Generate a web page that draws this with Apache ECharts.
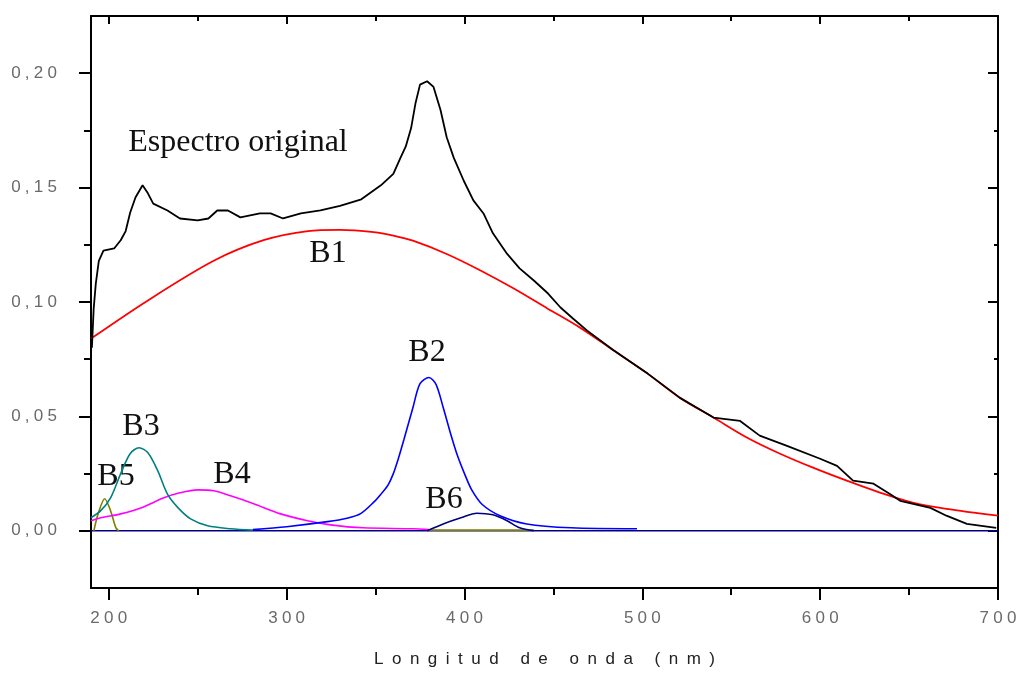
<!DOCTYPE html>
<html>
<head>
<meta charset="utf-8">
<script src="https://cdn.jsdelivr.net/npm/echarts@6/dist/echarts.min.js"></script>
<style>
  html, body { margin: 0; padding: 0; background: #fff; }
  #chart { width: 1021px; height: 674px; }
</style>
</head>
<body>
<div id="chart"></div>
<script>
// espectro original (nm, absorbancia)
var spectrumNm = [190.5, 191.5, 192.7, 194.4, 197, 203, 206.7, 209.5, 212, 215, 219, 222, 225, 233, 240, 250, 256, 261, 267, 274, 285, 291, 298, 308, 319, 330, 342, 353, 360, 364, 367, 370, 372.5, 375, 379, 382.6, 386.5, 390, 394, 399.6, 405, 410.7, 416, 424, 431, 439, 447, 454, 461, 469, 484, 503, 521, 540, 555, 566, 581, 600, 609.5, 618.5, 630, 639, 645, 662, 671, 682.5, 699];
var spectrumAbs = [0.080, 0.097, 0.108, 0.118, 0.1225, 0.1234, 0.127, 0.131, 0.139, 0.1457, 0.151, 0.1475, 0.143, 0.140, 0.1365, 0.1357, 0.1365, 0.140, 0.140, 0.137, 0.1387, 0.1387, 0.1365, 0.1387, 0.140, 0.142, 0.1449, 0.151, 0.156, 0.163, 0.168, 0.176, 0.187, 0.195, 0.1965, 0.194, 0.184, 0.172, 0.163, 0.153, 0.1444, 0.1387, 0.130, 0.121, 0.1147, 0.1094, 0.1037, 0.0976, 0.0928, 0.0875, 0.0788, 0.0687, 0.0582, 0.0495, 0.048, 0.0416, 0.0372, 0.0315, 0.0284, 0.0219, 0.0206, 0.0162, 0.0131, 0.010, 0.0066, 0.003, 0.0013];

// bandas
var b1Nm = [190, 222, 259, 287, 312, 330, 349, 360, 371, 390, 409, 427.5, 446.6, 465, 484, 503, 521, 540, 559, 577.5, 596, 615, 634, 652, 671, 700];
var b1Abs = [0.084, 0.1007, 0.118, 0.127, 0.131, 0.1315, 0.1305, 0.129, 0.1268, 0.121, 0.1138, 0.106, 0.0972, 0.0888, 0.0788, 0.0687, 0.0582, 0.0495, 0.0407, 0.0337, 0.0276, 0.0219, 0.0166, 0.0123, 0.0096, 0.0066];

var b2Nm = [281, 300, 323, 334, 341.6, 349, 353, 357, 360, 363, 366, 371, 375, 380, 384, 388, 392, 396, 400, 404, 410, 420, 435, 460, 497];
var b2Abs = [0.0005, 0.0018, 0.004, 0.0055, 0.0075, 0.0125, 0.016, 0.020, 0.025, 0.032, 0.040, 0.0538, 0.0643, 0.067, 0.064, 0.054, 0.043, 0.033, 0.025, 0.018, 0.0115, 0.0066, 0.003, 0.0013, 0.0009];

var b3Nm = [190, 195.5, 201, 206.7, 212, 217, 222, 227.5, 233, 239, 246, 255.6, 268.5, 281];
var b3Abs = [0.0057, 0.0088, 0.0144, 0.025, 0.0337, 0.0363, 0.0341, 0.0263, 0.016, 0.010, 0.0052, 0.0022, 0.0009, 0.0003];

var b4Nm = [190, 195.5, 206.7, 218, 231, 240, 250, 259, 268.5, 281.5, 296.6, 311.8, 324.7, 343, 371, 380];
var b4Abs = [0.0044, 0.0057, 0.0074, 0.010, 0.0144, 0.0166, 0.0179, 0.0175, 0.0153, 0.0118, 0.0074, 0.0044, 0.0026, 0.0013, 0.0009, 0.0005];

var b5Nm = [191.6, 194, 197.7, 201, 204, 205.6];
var b5Abs = [0, 0.0074, 0.014, 0.0088, 0.0013, 0];

var b6Nm = [379, 388, 398, 407, 416, 424, 431, 439];
var b6Abs = [0, 0.003, 0.0057, 0.0077, 0.007, 0.0044, 0.0013, 0];

var oliveNm = [379, 439];
var oliveAbs = [0.0003, 0.0003];

var baseNm = [190, 700];
var baseAbs = [0, 0];

// ejes
var xMajor = [200, 300, 400, 500, 600, 700];
var xMinor = [250, 350, 450, 550, 650];
var yMajor = [0, 0.05, 0.10, 0.15, 0.20];
var yMinor = [0.025, 0.075, 0.125, 0.175];

function pairs(xs, ys) {
    return xs.map(function(x, i) { return [x, ys[i]]; });
}
function spaced(s, sep) {
    return s.split('').join(sep);
}

var chart = echarts.init(document.getElementById('chart'));

var lineAxis = { show: true, onZero: false, lineStyle: { color: '#000', width: 2 } };
var noLine = { show: false, onZero: false };
var labelFont = "'Liberation Sans Narrow', 'Liberation Sans', Arial, sans-serif";

function xAx(pos, ticks, len, inside, showLine, labels) {
    return {
        type: 'value', position: pos, min: 190, max: 700,
        axisLine: showLine ? lineAxis : noLine,
        splitLine: { show: false },
        axisTick: { show: true, inside: inside, length: len, customValues: ticks, lineStyle: { color: '#000', width: 2 } },
        axisLabel: labels ? {
            show: true, customValues: xMajor, margin: 22, color: '#6a6a6a', fontSize: 17,
            fontFamily: labelFont,
            formatter: function(v) { return spaced(String(v), '\u2005'); }
        } : { show: false }
    };
}
function yAx(pos, ticks, len, inside, showLine, labels) {
    return {
        type: 'value', position: pos, min: -0.025, max: 0.225,
        axisLine: showLine ? lineAxis : noLine,
        splitLine: { show: false },
        axisTick: { show: true, inside: inside, length: len, customValues: ticks, lineStyle: { color: '#000', width: 2 } },
        axisLabel: labels ? {
            show: true, customValues: yMajor, margin: 34, color: '#6a6a6a', fontSize: 17,
            fontFamily: labelFont,
            formatter: function(v) { return spaced(v.toFixed(2).replace('.', ','), '\u2005'); }
        } : { show: false }
    };
}

var xMain = xAx('bottom', xMajor, 12, false, true, true);
xMain.name = spaced('Longitud de onda (nm)', '\u2002');
xMain.nameLocation = 'middle';
xMain.nameGap = 63;
xMain.nameTextStyle = { color: '#222', fontSize: 17, fontFamily: labelFont };

function band(name, xs, ys, color, smooth, width) {
    return {
        name: name, type: 'line', xAxisIndex: 0, yAxisIndex: 0,
        data: pairs(xs, ys), showSymbol: false, symbol: 'none',
        smooth: smooth, lineStyle: { color: color, width: width || 1.6 },
        silent: true
    };
}

var serifFont = "'Liberation Serif', 'Times New Roman', serif";
function note(text, cx, cy) {
    return {
        type: 'text', x: cx, y: cy,
        style: { text: text, font: '32px ' + serifFont, fill: '#111', align: 'center', verticalAlign: 'middle' }
    };
}

chart.setOption({
    animation: false,
    grid: { left: 91, right: 23, top: 16, bottom: 86, containLabel: false },
    xAxis: [
        xMain,
        xAx('bottom', xMinor, 7, false, false, false),
        xAx('top', xMajor, 8, true, true, false),
        xAx('top', xMinor, 5, true, false, false)
    ],
    yAxis: [
        yAx('left', yMajor, 12, false, true, true),
        yAx('left', yMinor, 7, false, false, false),
        yAx('right', yMajor, 10, true, true, false),
        yAx('right', yMinor, 4, true, false, false)
    ],
    series: [
        band('base', baseNm, baseAbs, '#000080', false, 1.6),
        band('B5b', oliveNm, oliveAbs, '#808000', false, 1.6),
        band('B5', b5Nm, b5Abs, '#808000', 0.3),
        band('B4', b4Nm, b4Abs, '#ff00ff', 0.3),
        band('B3', b3Nm, b3Abs, '#008080', 0.3),
        band('B6', b6Nm, b6Abs, '#000080', 0.3),
        band('B2', b2Nm, b2Abs, '#0000ff', 0.3),
        band('B1', b1Nm, b1Abs, '#ff0000', 0.3, 1.8),
        band('Espectro original', spectrumNm, spectrumAbs, '#000000', false, 1.8)
    ],
    graphic: [
        note('Espectro original', 238, 143),
        note('B1', 328, 254),
        note('B2', 427, 353),
        note('B3', 141, 427),
        note('B4', 232, 475),
        note('B5', 116, 477),
        note('B6', 444, 500)
    ]
});
</script>
</body>
</html>
